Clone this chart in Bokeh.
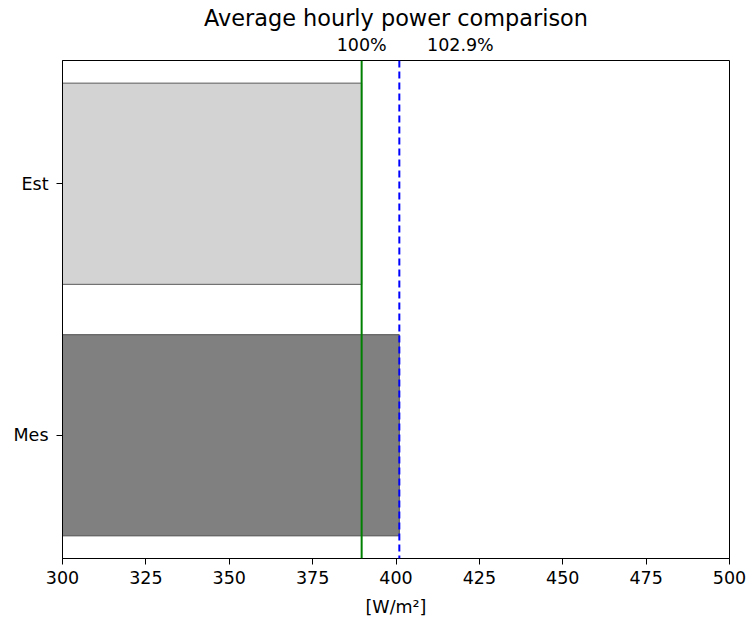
from bokeh.plotting import figure
from bokeh.models import Range1d, FixedTicker, LinearAxis, Span
from bokeh.embed import file_html
from bokeh.resources import INLINE

# Average hourly power [W/m^2]
categories = ["Mes", "Est"]
power = [401.0, 389.7]
bar_colors = ["#808080", "#d3d3d3"]
x_ticks = [300, 325, 350, 375, 400, 425, 450, 475, 500]

est_value = power[1]
mes_value = power[0]
ratio_pct = mes_value / est_value * 100.0

FONT = "DejaVu Sans"
TICK_SIZE = "17.5px"

p = figure(
    width=748, height=628,
    frame_width=667, frame_height=498,
    x_range=Range1d(300, 500), y_range=Range1d(-0.49, 1.49),
    output_backend="svg", toolbar_location=None,
    min_border_left=62, min_border_right=19, min_border_top=60, min_border_bottom=70,
    title="Average hourly power comparison",
)
p.background_fill_color = "white"
p.border_fill_color = "white"
p.outline_line_color = "black"
p.outline_line_width = 1
p.grid.visible = False

p.title.align = "center"
p.title.text_font = FONT
p.title.text_font_size = "22.4px"
p.title.text_font_style = "normal"
p.title.text_color = "black"
p.title.standoff = 2

ypos = list(range(len(categories)))
p.hbar(y=ypos, left=300, right=power, height=0.8,
       fill_color=bar_colors, line_color="#333333", line_width=0.8)

# reference lines: estimate (100%) and measurement
p.add_layout(Span(location=est_value, dimension="height", line_color="green", line_width=2))
p.add_layout(Span(location=mes_value, dimension="height", line_color="blue",
                  line_width=2, line_dash="7 4"))

for ax in (p.xaxis[0], p.yaxis[0]):
    ax.axis_line_color = "black"
    ax.major_tick_line_color = "black"
    ax.major_tick_out = 6
    ax.major_tick_in = 0
    ax.minor_tick_line_color = None
    ax.major_label_text_font = FONT
    ax.major_label_text_font_size = TICK_SIZE
    ax.major_label_text_color = "black"

p.xaxis[0].major_label_standoff = 6
p.yaxis[0].major_label_standoff = 8

p.xaxis[0].ticker = FixedTicker(ticks=x_ticks)
p.xaxis[0].axis_label = "[W/m²]"
p.xaxis[0].axis_label_text_font = FONT
p.xaxis[0].axis_label_text_font_size = TICK_SIZE
p.xaxis[0].axis_label_text_font_style = "normal"
p.xaxis[0].axis_label_text_color = "black"
p.xaxis[0].axis_label_standoff = 10

p.yaxis[0].ticker = FixedTicker(ticks=ypos)
p.yaxis[0].major_label_overrides = {i: c for i, c in enumerate(categories)}

# percentage labels above the frame
pct_positions = [est_value, 419.3]
top = LinearAxis(ticker=FixedTicker(ticks=pct_positions),
                 major_label_overrides={pct_positions[0]: "100%",
                                        pct_positions[1]: f"{ratio_pct:.1f}%"})
top.axis_line_color = None
top.major_tick_line_color = None
top.minor_tick_line_color = None
top.major_tick_out = 0
top.major_tick_in = 0
top.major_label_text_font = FONT
top.major_label_text_font_size = TICK_SIZE
top.major_label_text_color = "black"
top.major_label_standoff = 6
p.add_layout(top, "above")

open("out.html", "w").write(file_html(p, INLINE))
